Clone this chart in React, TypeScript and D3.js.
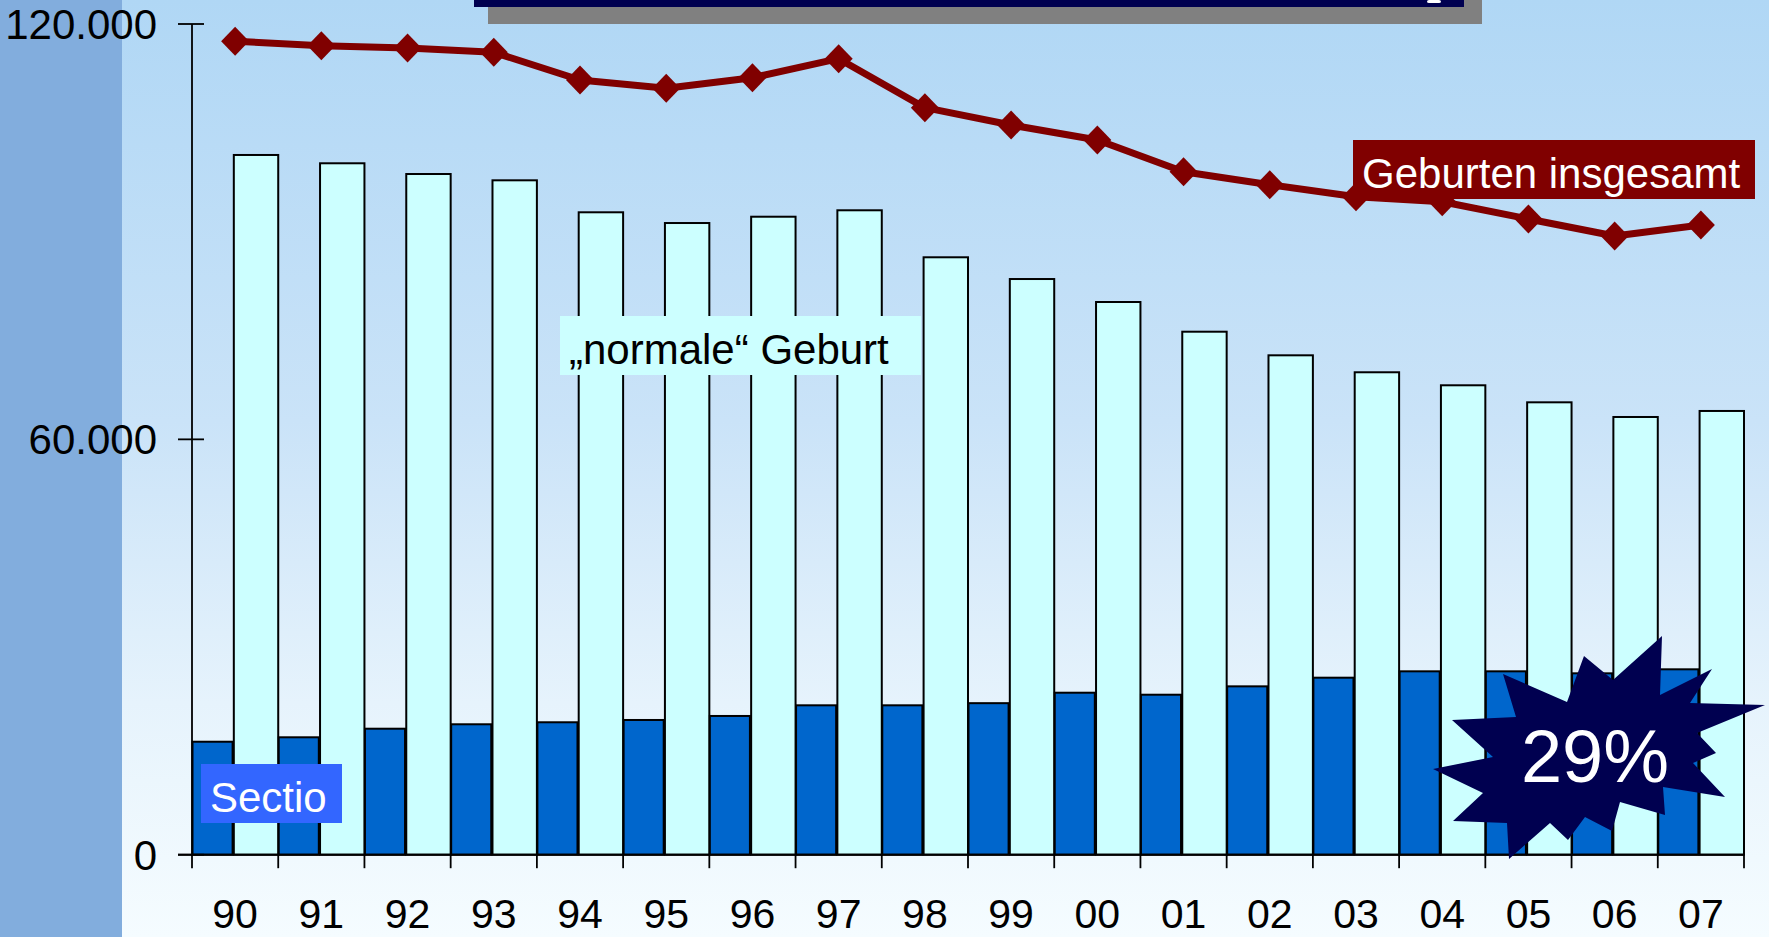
import React from 'react';
import * as d3 from 'd3';

// ---- data ----
const years = ['90', '91', '92', '93', '94', '95', '96', '97', '98', '99', '00', '01', '02', '03', '04', '05', '06', '07'];
const sectio = [16320, 16960, 18200, 18840, 19130, 19460, 20040, 21580, 21580, 21890, 23400, 23110, 24320, 25570, 26490, 26490, 26200, 26780];
const normale = [101080, 99880, 98330, 97420, 92800, 91250, 92160, 93090, 86300, 83160, 79840, 75550, 72140, 69690, 67810, 65350, 63230, 64100];
const gesamt = [117500, 116870, 116530, 115910, 111910, 110710, 112240, 114990, 107910, 105410, 103240, 98660, 96790, 95050, 94330, 91830, 89370, 90960];
const yTicks = [0, 60000, 120000];
const yTickLabels = ['0', '60.000', '120.000'];

const labelGesamt = 'Geburten insgesamt';
const labelNormal = '\u201Enormale\u201C Geburt';
const labelSectio = 'Sectio';
const labelPercent = '29%';

// burst shape (annotation), offsets from its centre
const burstCenter: [number, number] = [1598, 750];
const burstOffsets: [number, number][] = [
  [64, -114], [62, -55], [114, -81], [92, -47], [167, -45], [99, -17], [118, 3], [95, 13],
  [127, 47], [65, 37], [67, 65], [22, 52], [14, 81], [-13, 67], [-30, 90], [-48, 73],
  [-89, 109], [-91, 73], [-145, 71], [-115, 43], [-165, 19], [-105, 7], [-146, -30], [-82, -33],
  [-95, -76], [-31, -48], [-14, -94], [15, -70],
];

const W = 1769;
const H = 937;
const FONT = "'Liberation Sans', Arial, Helvetica, sans-serif";

export default function App() {
  const x = d3.scaleBand<string>().domain(years).range([192, 1744]).padding(0);
  const bw = x.bandwidth();
  const y = d3.scaleLinear().domain([0, 120000]).range([854.7, 24]);

  const lineGen = d3
    .line<number>()
    .x((_, i) => (x(years[i]) as number) + bw / 2)
    .y((d) => y(d));

  const burstPts = burstOffsets
    .map(([dx, dy]) => `${burstCenter[0] + dx},${burstCenter[1] + dy}`)
    .join(' ');

  return (
    <svg
      width={W}
      height={H}
      style={{ position: 'absolute', left: 0, top: 0, display: 'block' }}
      fontFamily={FONT}
    >
      <defs>
        <linearGradient id="bg" x1="0" y1="0" x2="0" y2="1">
          <stop offset="0%" stopColor="#B0D7F5" />
          <stop offset="45%" stopColor="#CAE3F8" />
          <stop offset="75%" stopColor="#E6F3FC" />
          <stop offset="100%" stopColor="#F5FCFF" />
        </linearGradient>
      </defs>
      <rect x={0} y={0} width={W} height={H} fill="url(#bg)" />
      <rect x={0} y={0} width={122} height={H} fill="#82ADDD" />

      {/* title box remnant */}
      <rect x={488} y={0} width={994} height={24} fill="#808080" />
      <rect x={474} y={0} width={990} height={7} fill="#000050" />
      <rect x={1427} y={0} width={14} height={3} rx={2} fill="#ffffff" />

      {/* bars */}
      {years.map((yr, i) => {
        const x0 = x(yr) as number;
        return (
          <g key={yr}>
            <rect
              x={x0 + 0.5}
              y={y(sectio[i])}
              width={bw * 0.465}
              height={y(0) - y(sectio[i])}
              fill="#0066CC"
              stroke="#000"
              strokeWidth={2}
            />
            <rect
              x={x0 + bw * 0.485}
              y={y(normale[i])}
              width={bw * 0.515}
              height={y(0) - y(normale[i])}
              fill="#CCFFFF"
              stroke="#000"
              strokeWidth={2}
            />
          </g>
        );
      })}

      {/* axes */}
      <line x1={192} x2={192} y1={y(120000)} y2={y(0)} stroke="#000" strokeWidth={1.8} />
      <line x1={178} x2={1744} y1={y(0)} y2={y(0)} stroke="#000" strokeWidth={2} />
      {yTicks.map((t, i) => (
        <g key={t}>
          <line x1={178} x2={204} y1={y(t)} y2={y(t)} stroke="#000" strokeWidth={1.8} />
          <text x={157} y={y(t) + 15} fontSize={42} textAnchor="end" fill="#000">
            {yTickLabels[i]}
          </text>
        </g>
      ))}
      {[...years.map((yr) => x(yr) as number), 1744].map((bx, i) => (
        <line key={i} x1={bx} x2={bx} y1={y(0)} y2={y(0) + 13.5} stroke="#000" strokeWidth={1.8} />
      ))}
      {years.map((yr) => (
        <text
          key={yr}
          x={(x(yr) as number) + bw / 2}
          y={928}
          fontSize={41}
          textAnchor="middle"
          fill="#000"
        >
          {yr}
        </text>
      ))}

      {/* total line */}
      <path d={lineGen(gesamt) || ''} fill="none" stroke="#800000" strokeWidth={7} strokeLinejoin="round" />
      {gesamt.map((v, i) => {
        const cx = (x(years[i]) as number) + bw / 2;
        const cy = y(v);
        return (
          <path
            key={i}
            d={`M${cx},${cy - 14.5}L${cx + 14},${cy}L${cx},${cy + 14.5}L${cx - 14},${cy}Z`}
            fill="#800000"
          />
        );
      })}

      {/* labels */}
      <rect x={560} y={316} width={361} height={59} fill="#CCFFFF" />
      <text x={569} y={364} fontSize={42} fill="#000">
        {labelNormal}
      </text>

      <rect x={1353} y={140} width={402} height={59} fill="#800000" />
      <text x={1362} y={188} fontSize={42} fill="#ffffff">
        {labelGesamt}
      </text>

      <rect x={201} y={764} width={141} height={59} fill="#3366FF" />
      <text x={210} y={812} fontSize={42} fill="#ffffff">
        {labelSectio}
      </text>

      {/* burst */}
      <polygon points={burstPts} fill="#000050" />
      <text x={1595} y={782} fontSize={74} fill="#ffffff" textAnchor="middle">
        {labelPercent}
      </text>
    </svg>
  );
}
